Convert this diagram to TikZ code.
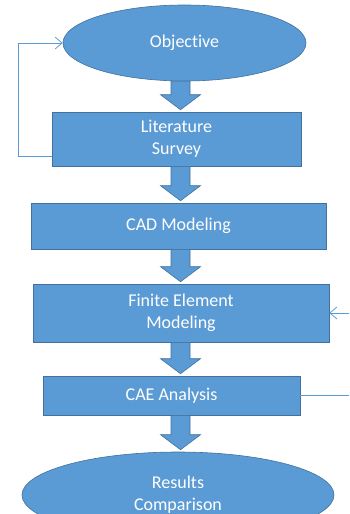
\documentclass[tikz,border=0pt]{standalone}
\usepackage{fontspec}
\setmainfont[Ligatures=NoCommon]{Carlito}
\usepackage{tikz}
\usetikzlibrary{arrows.meta, calc, shapes.geometric}
\definecolor{boxblue}{RGB}{91, 155, 213}
\definecolor{edgeblue}{RGB}{65, 113, 156}
\definecolor{lineblue}{RGB}{91, 155, 213}

% block arrow from one node down to the next
\newcommand{\blockarrow}[2]{%
  \path (ax |- #1.south) coordinate (s) (ax |- #2.north) coordinate (t);
  \draw[blkarrow] ($(s)+(-9.5,0)$) -- ($(t)+(-9.5,-17)$) -- ($(t)+(-20,-17)$)
    -- ($(t)+(0,-2)$) -- ($(t)+(20,-17)$) -- ($(t)+(9.5,-17)$) -- ($(s)+(9.5,0)$) -- cycle;}

\begin{document}
\begin{tikzpicture}[x=1pt, y=-1pt,
    stepbox/.style={rectangle, fill=boxblue, draw=edgeblue, line width=0.6pt, text=white,
      align=center, font=\fontsize{18}{22}\selectfont, inner sep=0pt},
    endbox/.style={ellipse, fill=boxblue, draw=edgeblue, line width=0.6pt, text=white,
      align=center, font=\fontsize{18}{22}\selectfont, inner sep=0pt},
    blkarrow/.style={fill=boxblue, draw=edgeblue, line width=0.6pt},
    fbline/.style={draw=lineblue, line width=0.8pt}]
    \useasboundingbox (0,0) rectangle (349,514);
    \clip (0,0) rectangle (349,514);

    % start and end
    \node[endbox, minimum width=243pt, minimum height=76pt] (obj) at (184.5,43) {Objective};
    \node[endbox, minimum width=312pt, minimum height=86pt] (res) at (178,495) {Results\\Comparison};

    % steps
    \node[stepbox, minimum width=249pt, minimum height=54pt] (lit) at (176.5,139) {Literature\\Survey};
    \node[stepbox, minimum width=295pt, minimum height=46pt] (cad) at (178.5,226) {CAD Modeling};
    \node[stepbox, minimum width=296pt, minimum height=58pt] (fem) at (181,313) {Finite Element\\Modeling};
    \node[stepbox, minimum width=257pt, minimum height=39pt] (cae) at (171.5,395.5) {CAE Analysis};

    % block arrows
    \coordinate (ax) at (180.5,0);
    \blockarrow{obj}{lit}
    \blockarrow{lit}{cad}
    \blockarrow{cad}{fem}
    \blockarrow{fem}{cae}
    \blockarrow{cae}{res}

    % feedback lines
    \coordinate (fbl) at (18,43);
    \draw[fbline, -{Straight Barb[length=7pt, width=12pt]}] ([yshift=-17pt]lit.west) -| (fbl) -- (obj.west);
    \coordinate (fbr1) at (349,313);
    \coordinate (fbr2) at (349,395.5);
    \draw[fbline, -{Straight Barb[length=7pt, width=12pt]}] (fbr1) -- (fem.east);
    \draw[fbline] (cae.east) -- (fbr2);
\end{tikzpicture}
\end{document}
